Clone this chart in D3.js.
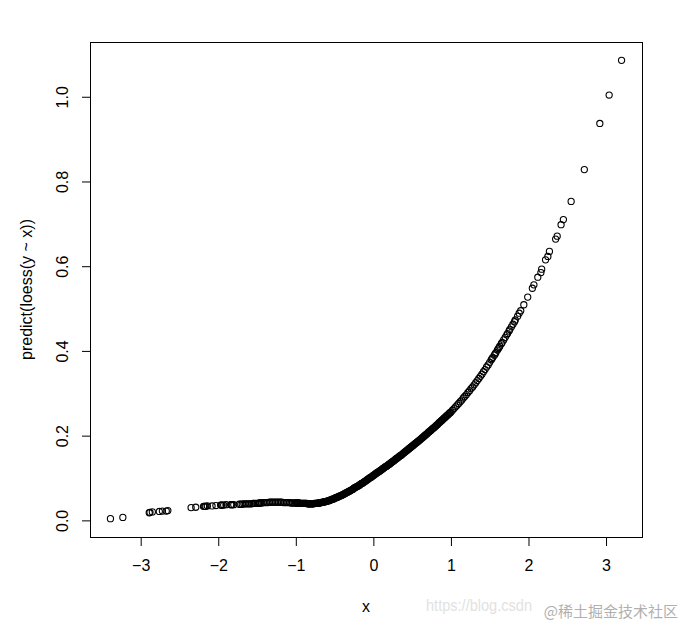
<!DOCTYPE html>
<html lang="en">
  <head>
    <meta charset="utf-8">
    <title>predict(loess(y ~ x))</title>
    <script src="https://cdn.jsdelivr.net/npm/d3@7/dist/d3.min.js"></script>
    <style>
      body { margin: 0; background: #fff; }
      svg { display: block; font-family: "Liberation Sans", Arial, sans-serif; }
      .tick-label { font-size: 16px; fill: #000; }
      .axis-title { font-size: 16px; fill: #000; }
    </style>
  </head>
  <body>
    <div id="chart"></div>
    <script type="text/javascript">

      /*
       * Values
       */

      var xTicks = [-3, -2, -1, 0, 1, 2, 3];
      var yTicks = [0.0, 0.2, 0.4, 0.6, 0.8, 1.0];

      // left tail, sparse
      var xLeft = [-3.39, -3.23, -2.89, -2.88, -2.85, -2.76, -2.72, -2.67, -2.65, -2.35,
                   -2.29, -2.19, -2.18, -2.17, -2.16, -2.14, -2.08, -2.03, -1.97, -1.96,
                   -1.95, -1.93, -1.90, -1.84, -1.83, -1.82, -1.80, -1.73, -1.71, -1.69,
                   -1.67, -1.65, -1.63, -1.61, -1.59, -1.57, -1.55, -1.54, -1.52, -1.50,
                   -1.48, -1.47, -1.46, -1.44];
      var yLeft = [0.004, 0.007, 0.018, 0.019, 0.020, 0.021, 0.022, 0.022, 0.023, 0.030,
                   0.031, 0.033, 0.033, 0.033, 0.033, 0.034, 0.034, 0.035, 0.036, 0.036,
                   0.036, 0.036, 0.037, 0.037, 0.037, 0.037, 0.037, 0.038, 0.038, 0.038,
                   0.039, 0.039, 0.039, 0.039, 0.039, 0.039, 0.040, 0.040, 0.040, 0.040,
                   0.040, 0.041, 0.041, 0.041];

      // shoulders of the dense band
      var xShoulderL = [-1.42, -1.40, -1.38, -1.36, -1.34, -1.32, -1.30, -1.28, -1.26, -1.24,
                        -1.22, -1.20, -1.18, -1.16, -1.14, -1.12, -1.10, -1.08, -1.06, -1.04,
                        -1.02];
      var yShoulderL = [0.042, 0.042, 0.042, 0.042, 0.043, 0.043, 0.043, 0.043, 0.043, 0.043,
                        0.043, 0.043, 0.043, 0.042, 0.042, 0.042, 0.042, 0.042, 0.041, 0.041,
                        0.041];

      // middle, very dense
      var xMid = [-1.00, -0.99, -0.98, -0.97, -0.96, -0.95, -0.94, -0.93, -0.92, -0.91,
                  -0.90, -0.89, -0.88, -0.87, -0.86, -0.85, -0.84, -0.83, -0.82, -0.81,
                  -0.80, -0.79, -0.78, -0.77, -0.76, -0.75, -0.74, -0.73, -0.72, -0.71,
                  -0.70, -0.69, -0.68, -0.67, -0.66, -0.65, -0.64, -0.63, -0.62, -0.61,
                  -0.60, -0.59, -0.58, -0.57, -0.56, -0.55, -0.54, -0.53, -0.52, -0.51,
                  -0.50, -0.49, -0.48, -0.47, -0.46, -0.45, -0.44, -0.43, -0.42, -0.41,
                  -0.40, -0.39, -0.38, -0.37, -0.36, -0.35, -0.34, -0.33, -0.32, -0.31,
                  -0.30, -0.29, -0.28, -0.27, -0.26, -0.25, -0.24, -0.23, -0.22, -0.21,
                  -0.20, -0.19, -0.18, -0.17, -0.16, -0.15, -0.14, -0.13, -0.12, -0.11,
                  -0.10, -0.09, -0.08, -0.07, -0.06, -0.05, -0.04, -0.03, -0.02, -0.01,
                  0.00, 0.01, 0.02, 0.03, 0.04, 0.05, 0.06, 0.07, 0.08, 0.09,
                  0.10, 0.11, 0.12, 0.13, 0.14, 0.15, 0.16, 0.17, 0.18, 0.19,
                  0.20, 0.21, 0.22, 0.23, 0.24, 0.25, 0.26, 0.27, 0.28, 0.29,
                  0.30, 0.31, 0.32, 0.33, 0.34, 0.35, 0.36, 0.37, 0.38, 0.39,
                  0.40, 0.41, 0.42, 0.43, 0.44, 0.45, 0.46, 0.47, 0.48, 0.49,
                  0.50, 0.51, 0.52, 0.53, 0.54, 0.55, 0.56, 0.57, 0.58, 0.59,
                  0.60, 0.61, 0.62, 0.63, 0.64, 0.65, 0.66, 0.67, 0.68, 0.69,
                  0.70, 0.71, 0.72, 0.73, 0.74, 0.75, 0.76, 0.77, 0.78, 0.79,
                  0.80, 0.81, 0.82, 0.83, 0.84, 0.85, 0.86, 0.87, 0.88, 0.89,
                  0.90, 0.91, 0.92, 0.93, 0.94, 0.95, 0.96, 0.97, 0.98, 0.99,
                  1.00];
      var yMid = [0.041, 0.041, 0.041, 0.041, 0.041, 0.040, 0.040, 0.040, 0.040, 0.040,
                  0.040, 0.040, 0.040, 0.040, 0.040, 0.039, 0.039, 0.039, 0.039, 0.039,
                  0.039, 0.039, 0.039, 0.039, 0.040, 0.040, 0.040, 0.040, 0.040, 0.041,
                  0.041, 0.041, 0.042, 0.042, 0.043, 0.043, 0.043, 0.044, 0.044, 0.045,
                  0.045, 0.046, 0.046, 0.047, 0.048, 0.048, 0.049, 0.050, 0.050, 0.051,
                  0.052, 0.053, 0.054, 0.054, 0.055, 0.056, 0.057, 0.058, 0.058, 0.059,
                  0.060, 0.061, 0.062, 0.063, 0.064, 0.065, 0.066, 0.067, 0.068, 0.069,
                  0.070, 0.071, 0.072, 0.073, 0.074, 0.076, 0.077, 0.078, 0.079, 0.080,
                  0.081, 0.082, 0.083, 0.085, 0.086, 0.087, 0.088, 0.089, 0.091, 0.092,
                  0.093, 0.094, 0.096, 0.097, 0.098, 0.100, 0.101, 0.102, 0.103, 0.105,
                  0.106, 0.107, 0.109, 0.110, 0.111, 0.113, 0.114, 0.115, 0.116, 0.118,
                  0.119, 0.120, 0.122, 0.123, 0.124, 0.126, 0.127, 0.128, 0.129, 0.131,
                  0.132, 0.133, 0.135, 0.136, 0.138, 0.139, 0.140, 0.142, 0.143, 0.145,
                  0.146, 0.147, 0.149, 0.150, 0.152, 0.153, 0.154, 0.156, 0.157, 0.159,
                  0.160, 0.162, 0.163, 0.165, 0.166, 0.168, 0.169, 0.171, 0.172, 0.174,
                  0.175, 0.177, 0.178, 0.180, 0.181, 0.183, 0.184, 0.186, 0.187, 0.189,
                  0.190, 0.192, 0.193, 0.195, 0.196, 0.198, 0.200, 0.201, 0.203, 0.204,
                  0.206, 0.208, 0.209, 0.211, 0.212, 0.214, 0.216, 0.217, 0.219, 0.220,
                  0.222, 0.224, 0.225, 0.227, 0.229, 0.231, 0.232, 0.234, 0.236, 0.237,
                  0.239, 0.241, 0.242, 0.244, 0.246, 0.248, 0.249, 0.251, 0.253, 0.254,
                  0.256];

      var xShoulderR = [1.02, 1.04, 1.06, 1.08, 1.10, 1.12, 1.14, 1.16, 1.18, 1.20,
                        1.22, 1.24, 1.26, 1.28, 1.30, 1.32, 1.34, 1.36, 1.38, 1.40,
                        1.42, 1.44, 1.46, 1.48, 1.50];
      var yShoulderR = [0.260, 0.264, 0.268, 0.272, 0.276, 0.280, 0.284, 0.289, 0.293, 0.297,
                        0.302, 0.306, 0.311, 0.315, 0.320, 0.325, 0.330, 0.335, 0.340, 0.345,
                        0.351, 0.356, 0.362, 0.367, 0.373];

      // right tail, getting sparse
      var xRight = [1.52, 1.53, 1.54, 1.56, 1.57, 1.58, 1.60, 1.61, 1.62, 1.63,
                    1.65, 1.66, 1.68, 1.70, 1.72, 1.73, 1.75, 1.76, 1.78, 1.80,
                    1.82, 1.83, 1.86, 1.88, 1.90, 1.94, 1.99, 2.05, 2.07, 2.12,
                    2.16, 2.17, 2.22, 2.25, 2.27, 2.35, 2.37, 2.42, 2.45, 2.55,
                    2.72, 2.92, 3.04, 3.20];
      var yRight = [0.379, 0.382, 0.385, 0.390, 0.393, 0.396, 0.402, 0.405, 0.408, 0.411,
                    0.417, 0.420, 0.426, 0.432, 0.438, 0.441, 0.447, 0.451, 0.457, 0.463,
                    0.469, 0.473, 0.482, 0.489, 0.495, 0.509, 0.527, 0.548, 0.556, 0.574,
                    0.585, 0.593, 0.615, 0.623, 0.635, 0.664, 0.671, 0.698, 0.710, 0.753,
                    0.828, 0.937, 1.004, 1.086];

      var xs = xLeft.concat(xShoulderL, xMid, xShoulderR, xRight);
      var ys = yLeft.concat(yShoulderL, yMid, yShoulderR, yRight);
      var points = xs.map(function(x, i) { return {x: x, y: ys[i]}; });

      /*
       * Layout (R base graphics look)
       */

      var w = 683, h = 624;
      var box = {left: 90, right: 642, top: 42, bottom: 537};

      // R pads the data range by 4% on each side
      function padded(ext) {
        var d = (ext[1] - ext[0]) * 0.04;
        return [ext[0] - d, ext[1] + d];
      }

      var xScale = d3.scaleLinear()
        .domain(padded(d3.extent(xs)))
        .range([box.left, box.right]);
      var yScale = d3.scaleLinear()
        .domain(padded(d3.extent(ys)))
        .range([box.bottom, box.top]);

      var svg = d3.select("#chart")
        .append("svg")
        .attr("width", w)
        .attr("height", h);

      // points, open circles
      svg.append("g")
        .selectAll("circle")
        .data(points)
        .enter()
        .append("circle")
        .attr("cx", function(d) { return xScale(d.x); })
        .attr("cy", function(d) { return yScale(d.y); })
        .attr("r", 3.1)
        .attr("fill", "none")
        .attr("stroke", "#000")
        .attr("stroke-width", 1.1);

      // frame
      svg.append("rect")
        .attr("x", box.left + 0.5)
        .attr("y", box.top + 0.5)
        .attr("width", box.right - box.left)
        .attr("height", box.bottom - box.top)
        .attr("fill", "none")
        .attr("stroke", "#000")
        .attr("stroke-width", 1);

      // x axis
      var xAxis = d3.axisBottom(xScale)
        .tickValues(xTicks)
        .tickSize(8)
        .tickPadding(14)
        .tickFormat(d3.format("d"));
      var gX = svg.append("g")
        .attr("transform", "translate(0," + (box.bottom + 1) + ")")
        .call(xAxis);
      gX.select(".domain").remove();
      gX.selectAll("text").attr("class", "tick-label").attr("font-size", null).attr("font-family", null);
      gX.selectAll("line").attr("stroke", "#000");

      // y axis
      var yAxis = d3.axisLeft(yScale)
        .tickValues(yTicks)
        .tickSize(8)
        .tickFormat(d3.format(".1f"));
      var gY = svg.append("g")
        .attr("transform", "translate(" + box.left + ",0)")
        .call(yAxis);
      gY.select(".domain").remove();
      gY.selectAll("line").attr("stroke", "#000");
      gY.selectAll("text")
        .attr("class", "tick-label")
        .attr("font-size", null).attr("font-family", null)
        .attr("x", null).attr("dy", null)
        .attr("text-anchor", "middle")
        .attr("transform", "translate(-22,0) rotate(-90)")
        .attr("y", 0);

      // axis titles
      svg.append("text")
        .attr("class", "axis-title")
        .attr("x", (box.left + box.right) / 2)
        .attr("y", 612)
        .attr("text-anchor", "middle")
        .text("x");

      svg.append("text")
        .attr("class", "axis-title")
        .attr("transform", "translate(32," + ((box.top + box.bottom) / 2) + ") rotate(-90)")
        .attr("text-anchor", "middle")
        .text("predict(loess(y ~ x))");

      // watermark
      svg.append("text")
        .attr("x", 426)
        .attr("y", 611)
        .attr("font-size", 16)
        .attr("fill", "#e2e2e2")
        .attr("textLength", 106)
        .attr("lengthAdjust", "spacingAndGlyphs")
        .text("https://blog.csdn");

      svg.append("text")
        .attr("x", 678)
        .attr("y", 617)
        .attr("text-anchor", "end")
        .attr("font-size", 15)
        .attr("font-family", "Noto Sans CJK SC, sans-serif")
        .attr("fill", "#b0b0b0")
        .text("@稀土掘金技术社区");

    </script>
  </body>
</html>
